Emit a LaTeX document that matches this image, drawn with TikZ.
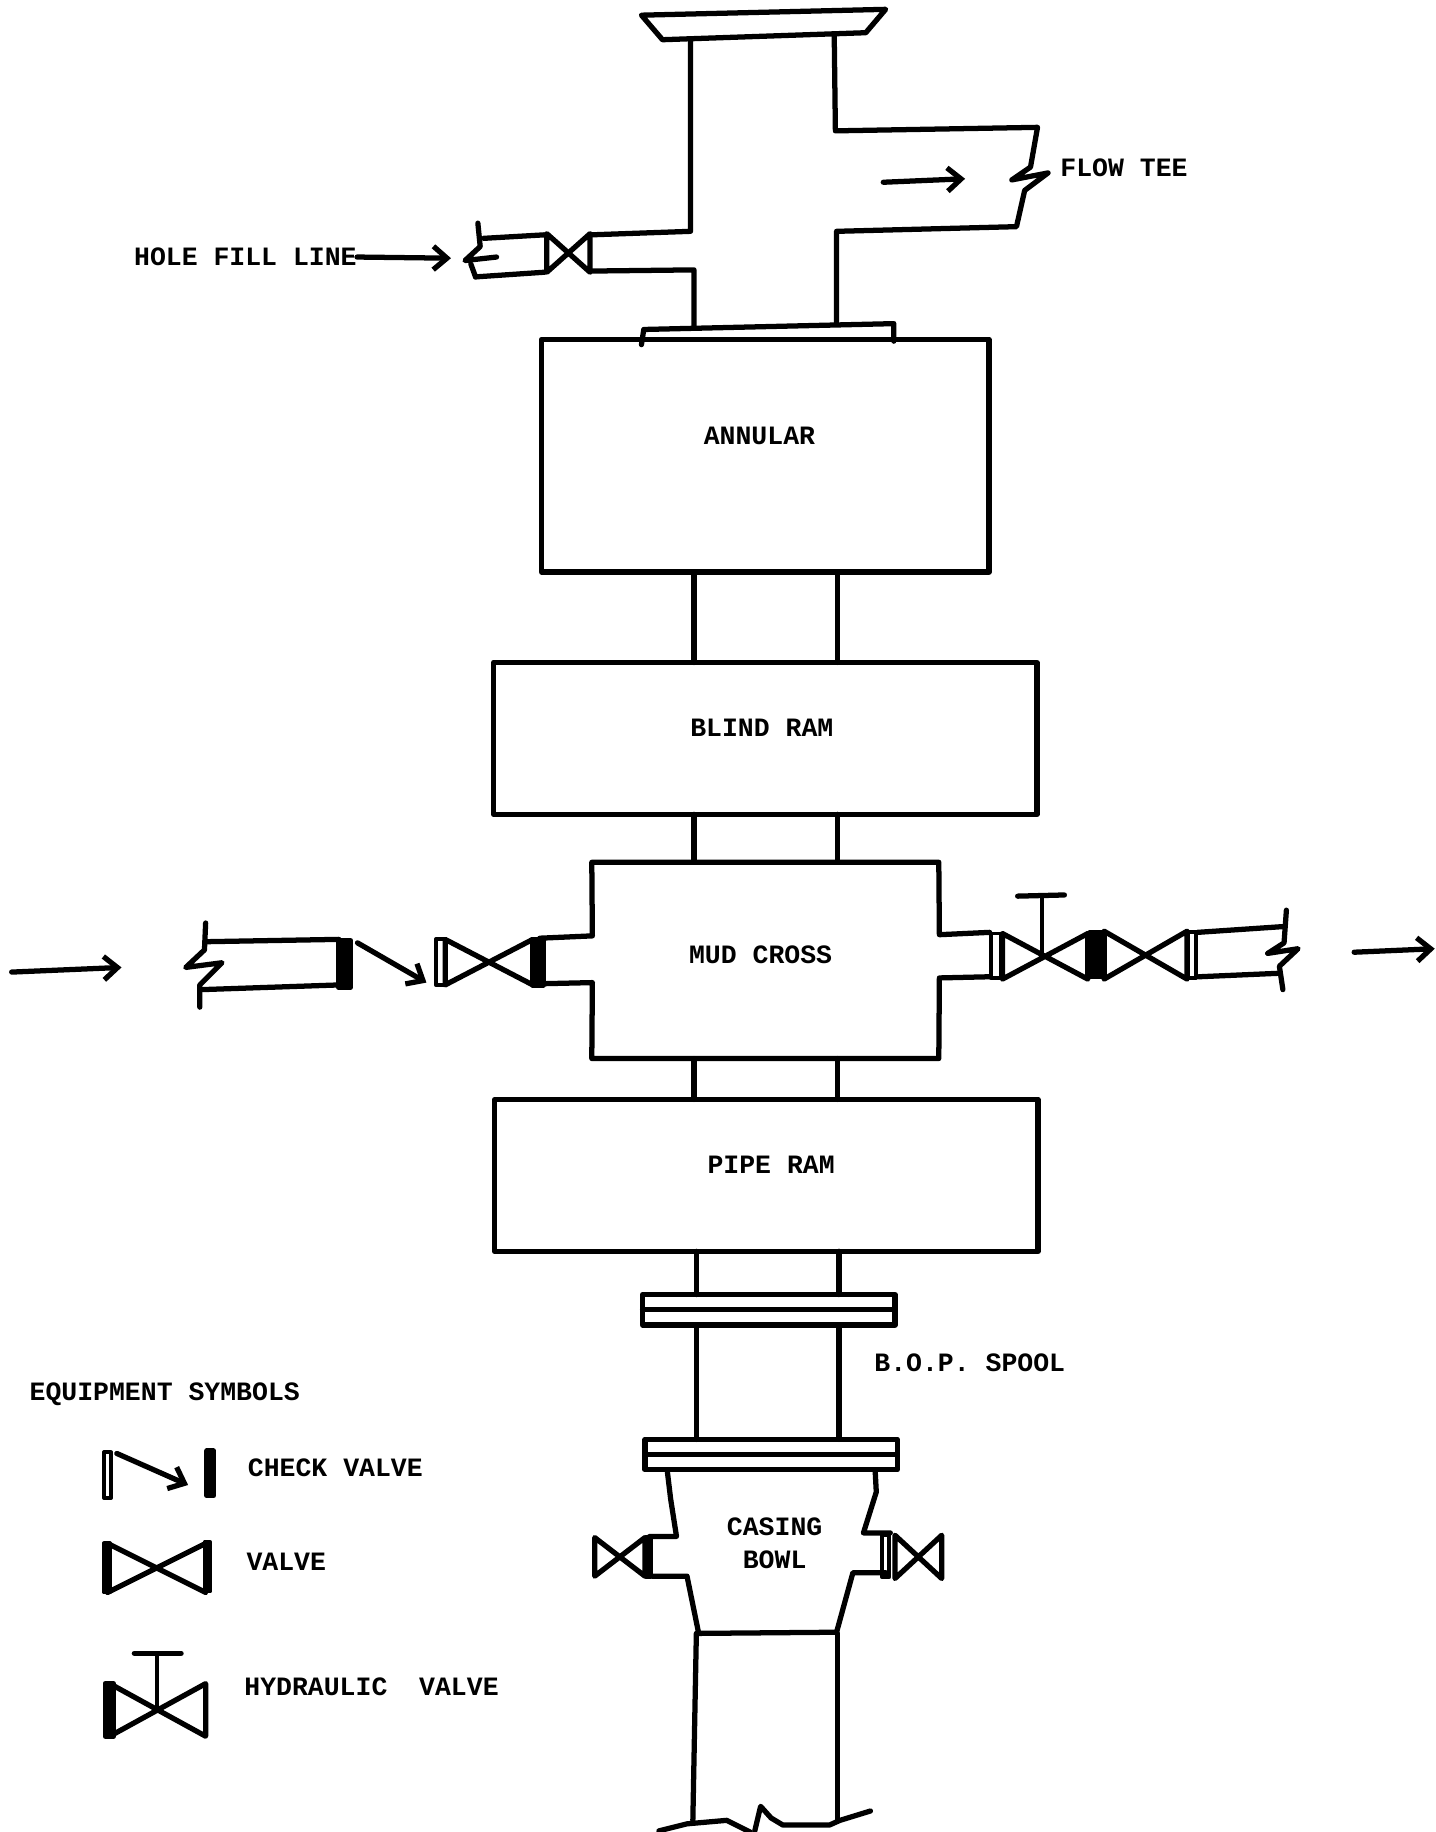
\documentclass[tikz,border=0pt]{standalone}
\usepackage{fontspec}
\setmainfont{Liberation Mono}
\usetikzlibrary{arrows.meta}

\newcommand{\boxtext}[3]{\raisebox{#2}[0pt][0pt]{\kern#1 #3}}

\tikzset{
  pipe/.style={line width=2.7pt, line join=round, line cap=round},
  thinpipe/.style={line width=2pt, line join=round, line cap=round},
  flow/.style={pipe, -{Straight Barb[length=7pt,width=12pt]}},
  lbl/.style={inner sep=0pt, font=\fontsize{13.6}{16.8}\selectfont\bfseries},
  box/.style={pipe, lbl, outer sep=0pt, minimum width=#1},
  flange/.style={draw, pipe, inner sep=0pt, outer sep=0pt, minimum width=129.6pt, minimum height=15.6pt}
}

\begin{document}
\begin{tikzpicture}[x=0.6pt, y=-0.6pt]
  \useasboundingbox (0,0) rectangle (1229,1568);

  \coordinate (pipeL) at (594,0);
  \coordinate (pipeR) at (717,0);
  \coordinate (spoolL) at (596,0);
  \coordinate (spoolR) at (718,0);

  \node[box=229.8pt, draw, minimum height=119.4pt] (annular) at (655,390) {\boxtext{-6pt}{5.7pt}{ANNULAR}};
  \node[box=279pt, draw, minimum height=78pt] (blindram) at (655,632) {\boxtext{-3.6pt}{0.9pt}{BLIND RAM}};
  \node[box=178.2pt, minimum height=100.8pt] (mudcross) at (655,822) {\boxtext{-4.8pt}{-1.5pt}{MUD CROSS}};
  \node[box=279pt, draw, minimum height=78pt] (piperam) at (656,1006) {\boxtext{4.8pt}{0.9pt}{PIPE RAM}};
  \node[flange] (spoolflange) at (658,1121) {};
  \node[flange] (bowlflange) at (660,1245) {};

  \node[lbl] (holefill) at (210,220) {HOLE FILL LINE};
  \node[lbl] (flowtee) at (962,144) {FLOW TEE};
  \node[lbl] (spool) at (830,1166) {B.O.P. SPOOL};
  \node[lbl, align=center] (bowl) at (663,1321) {CASING\\BOWL};
  \node[lbl] (symbols) at (141,1193) {EQUIPMENT SYMBOLS};
  \node[lbl] (checklbl) at (287,1256) {CHECK VALVE};
  \node[lbl] (valvelbl) at (245,1337) {VALVE};
  \node[lbl] (hydlbl) at (318,1444) {HYDRAULIC\ \ VALVE};

  \coordinate (holeend) at (386,221);
  \coordinate (teestart) at (756,156);
  \coordinate (teeend) at (826,153);
  \coordinate (instart) at (10,832);
  \coordinate (inend) at (104,828);
  \coordinate (outstart) at (1159,815);
  \coordinate (outend) at (1228,812);
  \coordinate (checka) at (306,807);
  \coordinate (checkb) at (365,841);
  \coordinate (legenda) at (100,1244);
  \coordinate (legendb) at (161,1271);

  \draw[flow] (holefill.east) -- (holeend);
  \draw[flow] (teestart) -- (teeend);
  \draw[flow] (instart) -- (inend);
  \draw[flow] (outstart) -- (outend);
  \draw[flow] (checka) -- (checkb);
  \draw[flow] (legenda) -- (legendb);

  \foreach \a/\b in {annular/blindram, blindram/mudcross, mudcross/piperam} {
    \draw[pipe] (\a.south -| pipeL) -- (\b.north -| pipeL);
    \draw[pipe] (\a.south -| pipeR) -- (\b.north -| pipeR);
  }
  \draw[pipe] (piperam.south -| spoolL) -- (spoolflange.north -| spoolL);
  \draw[pipe] (piperam.south -| spoolR) -- (spoolflange.north -| spoolR);
  \draw[pipe] (spoolflange.south -| spoolL) -- (bowlflange.north -| spoolL);
  \draw[pipe] (spoolflange.south -| spoolR) -- (bowlflange.north -| spoolR);
  \draw[pipe] (spoolflange.west) -- (spoolflange.east);
  \draw[pipe] (bowlflange.west) -- (bowlflange.east);

  \draw[pipe] (549,13) -- (758,8) -- (741,28) -- (567,34) -- cycle;
  \draw[pipe] (549,295) -- (551,282) -- (765,277) -- (765,292);

  \draw[pipe] (714,30) -- (715,112) -- (888,109) -- (882,143) -- (866,154) -- (897,148) -- (877,163) -- (870,194) -- (716,198) -- (716,277);
  \draw[pipe] (591,34) -- (591,198) -- (506,201);
  \draw[pipe] (506,232) -- (594,231) -- (594,281);
  \draw[pipe] (414,204) -- (466,201);
  \draw[pipe] (407,237) -- (466,233);
  \draw[pipe] (409,191) -- (411,211) -- (398,223) -- (425,220);
  \draw[pipe] (403,226) -- (407,237);

  \draw[pipe] (462,803) -- (507,801) -- (mudcross.north west) -- (mudcross.north east) -- (804,800) -- (847,798);
  \draw[pipe] (462,842) -- (507,841) -- (mudcross.south west) -- (mudcross.south east) -- (804,837) -- (847,836);
  \draw[pipe] (176,806) -- (290,804);
  \draw[pipe] (173,847) -- (290,843);
  \draw[pipe] (176,790) -- (175,813) -- (159,828) -- (190,824) -- (171,843) -- (171,862);
  \draw[pipe] (1025,798) -- (1099,793);
  \draw[pipe] (1026,836) -- (1095,833);
  \draw[pipe] (1101,779) -- (1099,807) -- (1085,816) -- (1111,812) -- (1095,827) -- (1098,847);

  \draw[pipe] (571,1258) -- (574,1283) -- (579,1315) -- (556,1315);
  \draw[pipe] (558,1349) -- (588,1349) -- (598,1398) -- (716,1397) -- (730,1346) -- (758,1346);
  \draw[pipe] (762,1312) -- (739,1312) -- (750,1277) -- (749,1258);
  \draw[pipe] (596,1398) -- (593,1558);
  \draw[pipe] (717,1398) -- (717,1558);
  \draw[pipe] (564,1567) -- (588,1561) -- (622,1558) -- (642,1568);
  \draw[pipe] (646,1567) -- (651,1546) -- (660,1556) -- (670,1562) -- (710,1562) -- (719,1558) -- (745,1550);

  \foreach \xa/\xb/\ya/\yb in {468/505/200/233, 381/456/804/843, 858/931/799/838, 945/1016/797/838, 509/552/1316/1349, 766/806/1314/1351, 92/176/1321/1363, 94/176/1441/1486} {
    \draw[pipe] (\xa,\ya) -- (\xb,\yb) -- (\xb,\ya) -- (\xa,\yb) -- cycle;
  }

  \foreach \xa/\xb/\ya/\yb in {290/300/805/845, 456/465/804/843, 933/943/798/836, 553/557/1316/1349, 177/183/1242/1280, 90/97/1441/1486} {
    \draw[pipe, fill=black] (\xa,\ya) rectangle (\xb,\yb);
  }
  \foreach \xa/\xb/\ya/\yb in {373/381/804/843, 848/857/799/837, 1017/1024/798/837, 755/761/1314/1350, 89/95/1243/1282, 89/94/1321/1363, 175/180/1320/1362} {
    \draw[thinpipe] (\xa,\ya) rectangle (\xb,\yb);
  }

  \draw[thinpipe] (892,819) -- (892,766);
  \draw[pipe] (871,767) -- (911,766);
  \draw[thinpipe] (134,1462) -- (134,1415);
  \draw[pipe] (115,1415) -- (155,1415);
\end{tikzpicture}
\end{document}
